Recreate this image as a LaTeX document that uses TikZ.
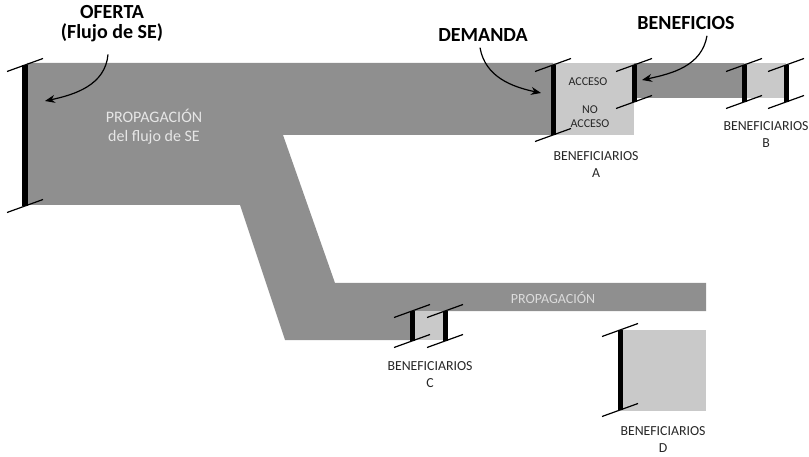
\documentclass[tikz,border=0pt]{standalone}
\usepackage{fontspec}
\setmainfont{Carlito}
\usetikzlibrary{arrows.meta}
\definecolor{flowdark}{HTML}{8F8F8F}
\definecolor{flowlight}{HTML}{C9C9C9}
\definecolor{inktext}{HTML}{262626}
\definecolor{paletext}{HTML}{E6E6E6}
\tikzset{
  flow/.style={fill=flowdark, draw=none},
  pool/.style={fill=flowlight, draw=none},
  title/.style={font=\fontsize{20}{20}\selectfont\bfseries, text=black, align=center, inner sep=0pt},
  tag/.style={font=\fontsize{13.8}{17}\selectfont, text=inktext, align=center, inner sep=0pt},
  smalltag/.style={font=\fontsize{12}{13.5}\selectfont, text=inktext, align=center, inner sep=0pt},
  flowtag/.style={font=\fontsize{16}{19}\selectfont, text=paletext, align=center, inner sep=0pt},
  pointer/.style={line width=1.2pt, -{Stealth[length=10pt,width=8pt]}},
  serif/.style={line width=1.2pt, black},
}
% vertical bar with slanted serifs: x, top, bottom, bar width
\newcommand\ibeam[4]{%
  \draw[line width=#4, black] (#1,#2) -- (#1,#3);
  \draw[serif] ({#1-18},{#2+6.5}) -- ({#1+18},{#2-6.5});
  \draw[serif] ({#1-18},{#3+6.5}) -- ({#1+18},{#3-6.5});
}
\begin{document}
\begin{tikzpicture}[x=1pt,y=-1pt]
\useasboundingbox (0,0) rectangle (809,457);

% main flow with its branch
\fill[flow] (27,63) -- (553,63) -- (553,135) -- (283,135) -- (335,283)
  -- (706,283) -- (706,311) -- (413,311) -- (413,340) -- (285,340)
  -- (240,205) -- (27,205) -- cycle;
\fill[flow] (634,63) rectangle (744,98);

% beneficiary pools
\fill[pool] (553,63) rectangle (634,135);
\fill[pool] (744,63) rectangle (786,98);
\fill[pool] (412,311) rectangle (445,340);
\fill[pool] (620,330) rectangle (706,411);

% bars
\ibeam{25}{65}{206}{6pt}
\ibeam{553}{65}{135}{5pt}
\ibeam{634}{65}{102}{5pt}
\ibeam{744}{65}{102}{5pt}
\ibeam{786}{65}{102}{5pt}
\ibeam{412}{311}{341}{5pt}
\ibeam{445}{311}{341}{5pt}
\ibeam{620}{330}{410}{5pt}

% texts
\node[title] (oferta) at (112,24) {OFERTA\\(Flujo de SE)};
\node[title] (demanda) at (483,35) {DEMANDA};
\node[title] (beneficios) at (686,23) {BENEFICIOS};
\node[flowtag] (prop1) at (154,127) {PROPAGACIÓN\\del flujo de SE};
\node[flowtag, font=\fontsize{14}{16}\selectfont, text=paletext!95!black] (prop2) at (553,298) {PROPAGACIÓN};
\node[smalltag] (acceso) at (588,82) {ACCESO};
\node[smalltag] (noacceso) at (590,116.5) {NO\\ACCESO};
\node[tag] (benA) at (596,165) {BENEFICIARIOS\\A};
\node[tag] (benB) at (766,134.5) {BENEFICIARIOS\\B};
\node[tag] (benC) at (430,375) {BENEFICIARIOS\\C};
\node[tag] (benD) at (663,440) {BENEFICIARIOS\\D};

% pointers
\coordinate (ofertaEnd) at (45,101);
\coordinate (demandaEnd) at (541,93);
\coordinate (beneficiosEnd) at (642,80);
\draw[pointer] (oferta.south -| 108,0) ++(0,12) to[out=-95,in=12] (ofertaEnd);
\draw[pointer] (demanda.south -| 480,0) ++(0,6) to[out=-80,in=168] (demandaEnd);
\draw[pointer] (beneficios.south -| 707,0) ++(0,6) to[out=-100,in=12] (beneficiosEnd);
\end{tikzpicture}
\end{document}
